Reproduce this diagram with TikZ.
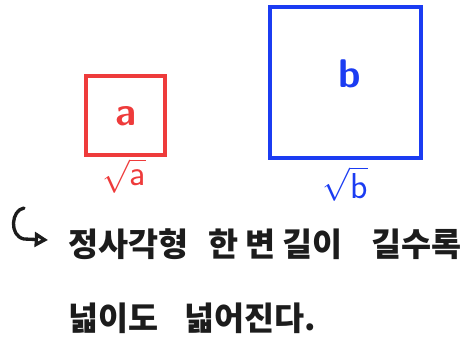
\documentclass[tikz,border=0pt]{standalone}
\usepackage{fontspec}
\newfontfamily\kofont{Noto Sans CJK KR}
\usetikzlibrary{arrows.meta}
\definecolor{pnred}{HTML}{EE3B3B}
\definecolor{pnblue}{HTML}{1B3CF2}
\definecolor{pnink}{HTML}{1C1C1C}
\tikzset{
  pnsquare/.style={rectangle, line width=3pt, inner sep=0pt, minimum size=#1},
  pnletter/.style={font=\sffamily\bfseries\fontsize{30}{30}\selectfont, inner sep=0pt},
  pnroot/.style  ={font=\fontsize{27}{27}\selectfont, inner sep=0pt},
  pnline/.style  ={font=\kofont\bfseries\fontsize{24.5}{30}\selectfont, text=pnink,
                   anchor=west, inner sep=0pt},
  pnhook/.style  ={-{Triangle[open,length=10pt,width=11pt,line width=2.5pt]},
                   line width=2.5pt, draw=pnink, line cap=round},
}
\begin{document}
\begin{tikzpicture}[x=0.75pt,y=-0.75pt]
  \useasboundingbox (0,0) rectangle (473,350);
  % the two squares
  \node[pnsquare=59.25pt, draw=pnred]  (sqa) at (125.5,115.5) {};
  \node[pnsquare=113.25pt, draw=pnblue] (sqb) at (345.5,82) {};
  \node[pnletter, text=pnred]  (areaa) at (126,116) {a};
  \node[pnletter, text=pnblue] (areab) at (350,74) {b};
  \node[pnroot, text=pnred]  (sidea) at (124,176) {$\sqrt{\mathsf{a}}$};
  \node[pnroot, text=pnblue] (sideb) at (345,184) {$\sqrt{\mathsf{b}}$};
  % note below
  \node[pnline] (noteone) at (68,244) {정사각형\hspace{0.6em}한 변\hspace{0.2em}길이\hspace{0.9em}길수록};
  \node[pnline] (notetwo) at (68,318) {넓이도\hspace{0.8em}넓어진다.};
  \coordinate (hookend) at (48,240);
  \draw[pnhook] (24,208) .. controls (11,210) and (9,236) .. (24,239) -- (hookend);
\end{tikzpicture}
\end{document}
